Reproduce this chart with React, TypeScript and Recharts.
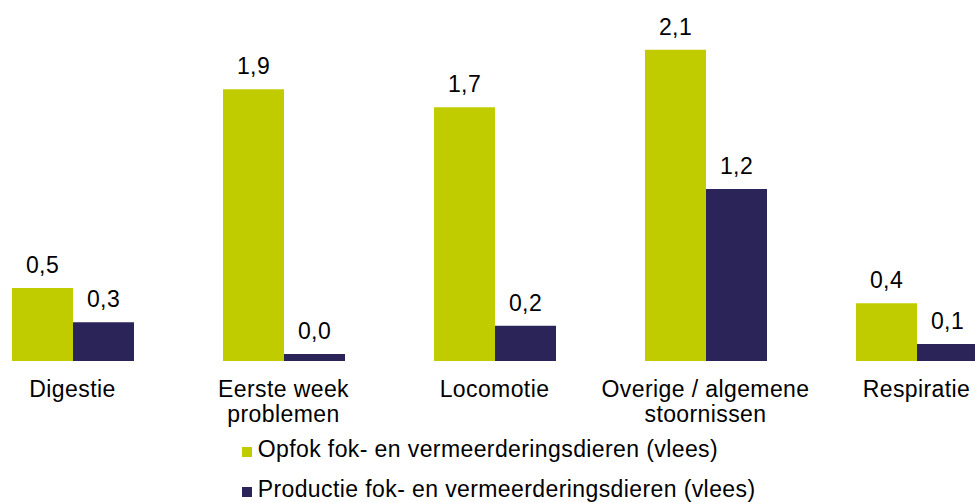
import React from 'react';
import { BarChart, Bar, XAxis, YAxis, LabelList, Legend } from 'recharts';

const categories = [
  'Digestie',
  'Eerste week\nproblemen',
  'Locomotie',
  'Overige / algemene\nstoornissen',
  'Respiratie',
];
const opfokValues = [0.5, 1.86, 1.736, 2.13, 0.395];
const productieValues = [0.265, 0.048, 0.242, 1.177, 0.116];
const seriesNames = [
  'Opfok fok- en vermeerderingsdieren (vlees)',
  'Productie fok- en vermeerderingsdieren (vlees)',
];
const seriesColors = ['#C0CC00', '#2A2458'];

const data = categories.map((c, i) => ({
  category: c,
  opfok: opfokValues[i],
  productie: productieValues[i],
}));

const FONT = '"Liberation Sans", Arial, sans-serif';
const fmt = (v: number) => Number(v).toFixed(1).replace('.', ',');

const Tick = (props: any) => {
  const { x, y, payload } = props;
  const lines = String(payload.value).split('\n');
  return (
    <text x={x} y={y} textAnchor="middle" fontFamily={FONT} fontSize={23} letterSpacing={0.4} fill="#000">
      {lines.map((l, i) => (
        <tspan key={i} x={x} dy={i === 0 ? 35.5 : 25}>
          {l}
        </tspan>
      ))}
    </text>
  );
};

const ValueLabel = (props: any) => {
  const { x, y, width, value } = props;
  return (
    <text
      x={Number(x) + Number(width) / 2}
      y={Number(y) - 15}
      textAnchor="middle"
      fontFamily={FONT}
      fontSize={23}
      letterSpacing={0.4}
      fill="#000"
    >
      {fmt(value)}
    </text>
  );
};

const renderLegend = () => (
  <div style={{ fontFamily: FONT, fontSize: 23, letterSpacing: 0.4, color: '#000' }}>
    {seriesNames.map((n, i) => (
      <div key={i} style={{ height: 40, lineHeight: '40px', whiteSpace: 'nowrap' }}>
        <span
          style={{
            display: 'inline-block',
            width: 10,
            height: 10,
            background: seriesColors[i],
            marginRight: 6,
          }}
        />
        {n}
      </div>
    ))}
  </div>
);

export default function App() {
  return (
    <div style={{ position: 'absolute', left: 0, top: 0, width: 975, height: 503, overflow: 'hidden', background: '#fff' }}>
      <div style={{ position: 'absolute', left: -33.5, top: 0 }}>
        <BarChart
          width={1055}
          height={503}
          data={data}
          margin={{ top: 10.36, right: 0, bottom: 82, left: 0 }}
          barGap={0}
        >
          <XAxis
            dataKey="category"
            axisLine={false}
            tickLine={false}
            tickSize={0}
            tickMargin={0}
            height={60}
            interval={0}
            tick={<Tick />}
          />
          <YAxis hide domain={[0, 2.4]} />
          <Legend
            layout="horizontal"
            verticalAlign="middle"
            align="center"
            content={renderLegend}
            wrapperStyle={{ position: 'absolute', left: 275.2, top: 429, width: 'auto', height: 'auto', margin: 0 }}
          />
          <Bar dataKey="opfok" name={seriesNames[0]} fill={seriesColors[0]} barSize={61} isAnimationActive={false}>
            <LabelList dataKey="opfok" content={<ValueLabel />} />
          </Bar>
          <Bar dataKey="productie" name={seriesNames[1]} fill={seriesColors[1]} barSize={61} isAnimationActive={false}>
            <LabelList dataKey="productie" content={<ValueLabel />} />
          </Bar>
        </BarChart>
      </div>
    </div>
  );
}
